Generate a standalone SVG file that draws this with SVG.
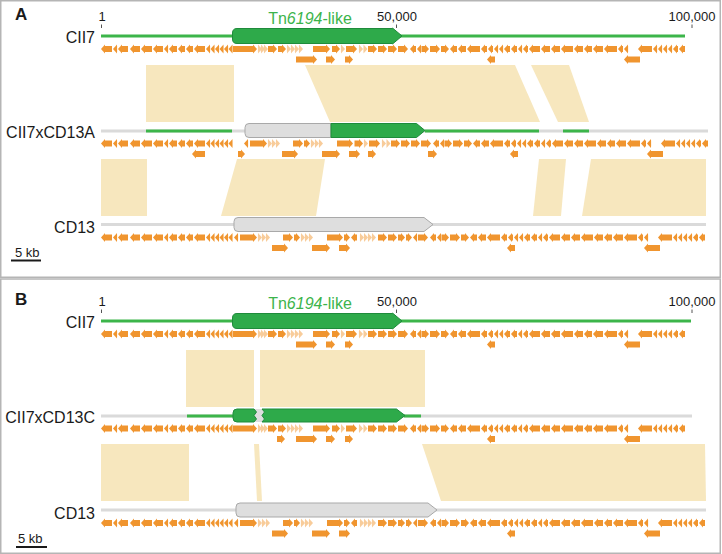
<svg xmlns="http://www.w3.org/2000/svg" width="722" height="554" viewBox="0 0 722 554">
<style>
text{font-family:"Liberation Sans",Arial,sans-serif;fill:#1a1a1a}
.lab{font-size:16px;text-anchor:end}
.num{font-size:13px}
.tn{font-size:16px;fill:#3cb44b;text-anchor:middle}
.pl{font-size:17px;font-weight:bold}
.blk{fill:#f7e7be}
.gl{stroke:#3cb54a;stroke-width:3}
.gy{stroke:#dadada;stroke-width:3}
.gn{fill:#2eaa4a;stroke:#1f8b3b;stroke-width:1}
.ge{fill:#dedede;stroke:#a9a9a9;stroke-width:1}
.gz{fill:#dedede;stroke:none}
.g path{fill:none;stroke:#f0952f;stroke-width:6;marker-end:url(#h)}
.g path.f{stroke:#f8cc9a;marker-end:url(#hf)}
.tick{stroke:#555;stroke-width:1}
.frame{fill:none;stroke:#b5b5b5;stroke-width:1.5}
.sb{stroke:#1a1a1a;stroke-width:2}
</style>
<defs>
<marker id="h" markerUnits="userSpaceOnUse" orient="auto" overflow="visible" refX="0" refY="0" markerWidth="4" markerHeight="9"><path d="M0-4.5L4 0L0 4.5z" fill="#f0952f"/></marker>
<marker id="hf" markerUnits="userSpaceOnUse" orient="auto" overflow="visible" refX="0" refY="0" markerWidth="4" markerHeight="9"><path d="M0-4.5L4 0L0 4.5z" fill="#f8cc9a"/></marker>
<clipPath id="c1"><rect x="238" y="136" width="116.5" height="12.7"/><rect x="238" y="148.7" width="124" height="12"/></clipPath>
<clipPath id="c2"><rect x="354.5" y="136" width="70" height="12.7"/><rect x="362" y="148.7" width="63" height="12"/></clipPath>
<g id="bbL" class="g">
<path d="M112 0H105"/><path d="M117.1 0H117"/><path d="M128 0H122"/><path d="M140 0H134"/><path d="M152 0H145"/><path d="M163 0H157"/><path d="M168.1 0H168"/><path d="M177 0H173"/><path d="M185 0H182"/><path d="M193 0H190"/><path d="M205 0H198"/><path d="M210.1 0H210"/><path d="M214.6 0H214.5"/><path d="M219.1 0H219"/><path d="M223.6 0H223.5"/><path d="M228.1 0H228"/><path d="M232.6 0H232.5"/>
</g>
<g id="tn" class="g">
<path d="M233 0H253"/><path class="f" d="M257.9 0H258"/><path class="f" d="M260.9 0H261"/><path class="f" d="M263.9 0H264"/><path d="M268 0H273"/><path d="M278 0H282"/><path class="f" d="M286.9 0H287"/><path class="f" d="M290.9 0H291"/><path class="f" d="M294.9 0H295"/><path class="f" d="M298.9 0H299"/><path d="M313 0H326"/><path d="M332 0H336"/><path class="f" d="M340.9 0H341"/><path d="M346 0H353"/><path class="f" d="M358.9 0H359"/><path class="f" d="M363.4 0H363.5"/><path d="M368 0H373"/><path d="M378 0H383"/><path d="M388 0H393"/>
<path d="M296 10.5H313"/><path d="M326 10.5H331"/><path d="M345 10.5H349"/>
</g>
<g id="bbR" class="g">
<path d="M398 0H404"/><path d="M416 0H414"/><path d="M421.1 0H421"/><path d="M421.5 0H425"/><path d="M430 0H436"/><path d="M441 0H445"/><path d="M457 0H454"/><path d="M466 0H462"/><path d="M480 0H471"/><path d="M487 0H485"/><path d="M493 0H492"/><path d="M498.1 0H498"/><path d="M503.1 0H503"/><path d="M510 0H508"/><path d="M517 0H515"/><path d="M522.1 0H522"/><path d="M528 0H527"/><path d="M540 0H533"/><path d="M550 0H545"/><path d="M560 0H555"/><path d="M573 0H565"/><path d="M583 0H578"/><path d="M592 0H588"/><path d="M603 0H597"/><path d="M617 0H608"/><path d="M623 0H622"/><path d="M628.1 0H628"/><path d="M652 0H642"/><path d="M657.1 0H657"/><path d="M662.1 0H662"/><path d="M667.1 0H667"/><path d="M672.1 0H672"/><path d="M678 0H677"/><path d="M685 0H683"/>
<path d="M495 10.5H491"/><path d="M640 10.5H628"/>
</g>
<g id="elD" class="g">
<path d="M238.1 0H238"/><path d="M240 0H253"/><path class="f" d="M257.9 0H258"/><path class="f" d="M261.9 0H262"/><path class="f" d="M265.9 0H266"/><path d="M283 0H289"/><path d="M294 0H296"/><path class="f" d="M300.9 0H301"/><path class="f" d="M304.9 0H305"/><path class="f" d="M308.9 0H309"/><path d="M327 0H339"/><path d="M344 0H346"/><path d="M357 0H355"/><path class="f" d="M359.9 0H360"/><path class="f" d="M363.9 0H364"/><path class="f" d="M367.9 0H368"/><path class="f" d="M371.9 0H372"/><path d="M378 0H383"/><path d="M388 0H393"/><path d="M398 0H401"/><path d="M406 0H408"/><path d="M417.1 0H417"/>
<path d="M272 10.5H284"/><path d="M312 10.5H326"/><path d="M339 10.5H346"/>
</g>
</defs>
<rect class="frame" x="0.75" y="0.75" width="719.5" height="276.5"/>
<rect class="frame" x="0.75" y="279" width="719.5" height="274.25"/>
<g id="connectors">
<polygon class="blk" points="146,65 234,65 234,122 146,122"/>
<polygon class="blk" points="305,65 515,65 540,122 330,122"/>
<polygon class="blk" points="531,65 569,65 589,122 558,122"/>
<polygon class="blk" points="101,159 147,159 147,216 101,216"/>
<polygon class="blk" points="237,159 325,159 316,216 221,216"/>
<polygon class="blk" points="539,159 566,159 561,216 533,216"/>
<polygon class="blk" points="591,159 706,159 706,216 582,216"/>
<polygon class="blk" points="186,350 254,350 254,407 186,407"/>
<polygon class="blk" points="260,350 425,350 425,407 260,407"/>
<polygon class="blk" points="101,444 189,444 189,501 101,501"/>
<polygon class="blk" points="254,444 259,444 262,501 257,501"/>
<polygon class="blk" points="422,444 705,444 706,501 441,501"/>
</g>
<g id="panelA-labels">
<text class="pl" x="15" y="20">A</text>
<text class="num" x="102" y="20.5" text-anchor="middle">1</text>
<line class="tick" x1="101.5" y1="24.5" x2="101.5" y2="28"/>
<text class="tn" x="310" y="24">Tn<tspan font-style="italic">6194</tspan>-like</text>
<text class="num" x="397" y="21" text-anchor="middle">50,000</text>
<line class="tick" x1="396.5" y1="24.5" x2="396.5" y2="28"/>
<text class="num" x="692" y="21" text-anchor="middle">100,000</text>
<line class="tick" x1="692" y1="24.5" x2="692" y2="28"/>
<text class="num" x="15" y="257">5 kb</text>
<line class="sb" x1="11" y1="260.5" x2="41" y2="260.5"/>
</g>
<g id="CII7-A">
<text class="lab" x="95" y="43.3">CII7</text>
<line class="gl" x1="101" y1="36" x2="685" y2="36"/>
<path class="gn" d="M237,28.5H392.5V28L402,36L392.5,44V43.5H237Q232.5,43.5 232.5,39V33Q232.5,28.5 237,28.5Z"/>
<use href="#bbL" y="49"/><use href="#tn" y="49"/><use href="#bbR" y="49"/>
</g>
<g id="CII7xCD13A">
<text class="lab" x="95" y="137.5">CII7xCD13A</text>
<line class="gy" x1="101" y1="131" x2="708" y2="131"/>
<line class="gl" x1="146" y1="131" x2="232" y2="131"/>
<line class="gl" x1="425" y1="131" x2="539" y2="131"/>
<line class="gl" x1="563" y1="131" x2="589" y2="131"/>
<path class="ge" d="M249,123.5H331V137.5H249Q245,137.5 245,133.5V127.5Q245,123.5 249,123.5Z"/>
<path class="gn" d="M331,123.5H416.5L425,130.5L416.5,137.5H331Z"/>
<use href="#bbL" y="143.5"/>
<g clip-path="url(#c1)"><use href="#elD" x="10" y="143.5"/></g>
<g clip-path="url(#c2)"><use href="#tn" x="23" y="143.5"/></g>
<use href="#bbR" x="23" y="143.5"/>
<g class="g"><path d="M205 154H196"/><path d="M238 154H241"/><path d="M428 154H433"/></g>
</g>
<g id="CD13-A">
<text class="lab" x="95" y="233.3">CD13</text>
<line class="gy" x1="101" y1="224.5" x2="706" y2="224.5"/>
<path class="ge" d="M238,217.5H424L433,224.5L424,231.5H238Q234,231.5 234,227.5V221.5Q234,217.5 238,217.5Z"/>
<use href="#bbL" y="237.5"/><use href="#elD" y="237.5"/><use href="#bbR" x="20" y="237.5"/>
</g>
<g id="panelB-labels">
<text class="pl" x="15" y="305">B</text>
<text class="num" x="102" y="305.5" text-anchor="middle">1</text>
<line class="tick" x1="101.5" y1="309.5" x2="101.5" y2="313"/>
<text class="tn" x="310" y="309">Tn<tspan font-style="italic">6194</tspan>-like</text>
<text class="num" x="397" y="306" text-anchor="middle">50,000</text>
<line class="tick" x1="396.5" y1="309.5" x2="396.5" y2="313"/>
<text class="num" x="692" y="306" text-anchor="middle">100,000</text>
<line class="tick" x1="692" y1="309.5" x2="692" y2="313"/>
<text class="num" x="18" y="542.5">5 kb</text>
<line class="sb" x1="16" y1="547" x2="47" y2="547"/>
</g>
<g id="CII7-B">
<text class="lab" x="95" y="328.3">CII7</text>
<line class="gl" x1="101" y1="321" x2="691" y2="321"/>
<path class="gn" d="M237,313.5H392.5V313L402,321L392.5,329V328.5H237Q232.5,328.5 232.5,324V318Q232.5,313.5 237,313.5Z"/>
<use href="#bbL" y="334"/><use href="#tn" y="334"/><use href="#bbR" y="334"/>
</g>
<g id="CII7xCD13C">
<text class="lab" x="95" y="422.5">CII7xCD13C</text>
<line class="gy" x1="101" y1="416" x2="692" y2="416"/>
<line class="gl" x1="187" y1="416" x2="233" y2="416"/>
<line class="gl" x1="404" y1="416" x2="421" y2="416"/>
<path class="gz" d="M254,409H262L264.5,412L262,415.5L264.5,419L262,422H254L256.5,419L254,415.5L256.5,412Z"/>
<path class="gn" d="M237,409H254L256.5,412L254,415.5L256.5,419L254,422H237Q233,422 233,418V413Q233,409 237,409Z"/>
<path class="gn" d="M262,409H396.5L405,415.5L396.5,422H262L264.5,419L262,415.5L264.5,412Z"/>
<use href="#bbL" y="428.5"/><use href="#tn" y="428.5"/><use href="#bbR" y="428.5"/>
<g class="g"><path d="M277 439H281"/></g>
</g>
<g id="CD13-B">
<text class="lab" x="95" y="518.5">CD13</text>
<line class="gy" x1="101" y1="510" x2="706" y2="510"/>
<path class="ge" d="M240,503H428L437,510L428,517H240Q236,517 236,513V507Q236,503 240,503Z"/>
<use href="#bbL" y="523"/><use href="#elD" y="523"/><use href="#bbR" x="20" y="523"/>
</g>
</svg>
